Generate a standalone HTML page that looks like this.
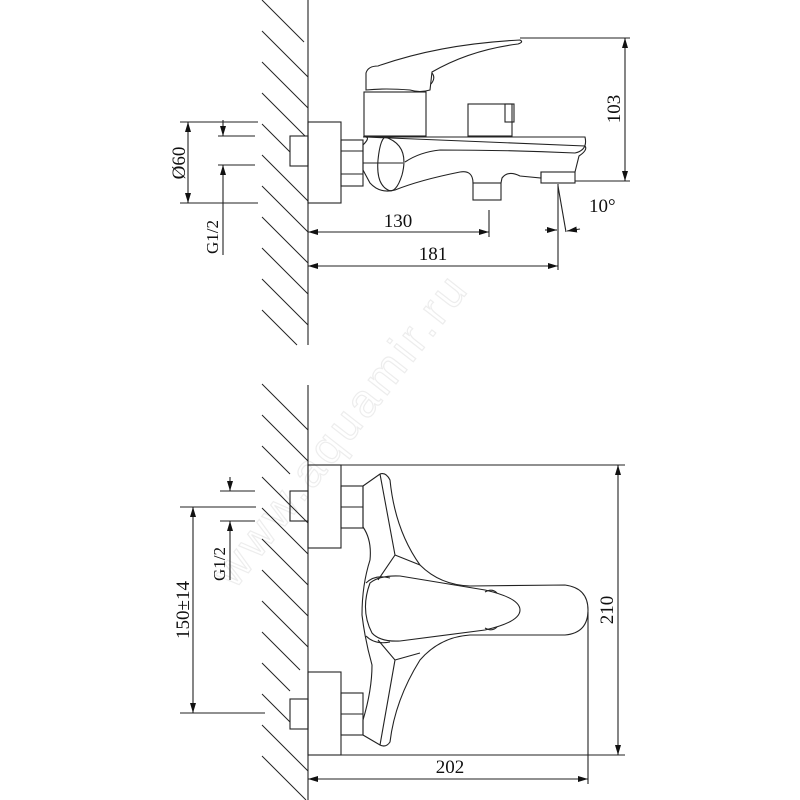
<!DOCTYPE html>
<html><head><style>html,body{margin:0;padding:0;background:#fff}svg{display:block}</style></head>
<body>
<svg width="800" height="800" viewBox="0 0 800 800" xmlns="http://www.w3.org/2000/svg" font-family="Liberation Serif, serif" fill="none" stroke="#222" stroke-width="1.1">
<defs>
<marker id="a" viewBox="0 0 10 6" refX="10" refY="3" markerWidth="10" markerHeight="6" orient="auto-start-reverse" markerUnits="userSpaceOnUse"><path d="M0,0 L10,3 L0,6 Z" fill="#111" stroke="none"/></marker>
</defs>
<text x="0" y="0" transform="translate(235,590) rotate(-52)" font-size="46" fill="none" stroke="#ededed" stroke-width="1.2" font-family="Liberation Sans, sans-serif" letter-spacing="4">www.aquamir.ru</text>

<line x1="308" y1="0" x2="308" y2="345"/>
<g stroke-width="1">
<line x1="262" y1="0" x2="304" y2="42"/>
<line x1="262" y1="31" x2="308" y2="77"/>
<line x1="262" y1="62" x2="308" y2="108"/>
<line x1="262" y1="93" x2="305" y2="136"/>
<line x1="262" y1="124" x2="290" y2="152"/>
<line x1="262" y1="155" x2="308" y2="201"/>
<line x1="262" y1="186" x2="308" y2="232"/>
<line x1="262" y1="217" x2="308" y2="263"/>
<line x1="262" y1="248" x2="308" y2="294"/>
<line x1="262" y1="279" x2="308" y2="325"/>
<line x1="262" y1="310" x2="297" y2="345"/>
</g>
<rect x="308" y="122" width="33" height="81"/>
<rect x="290" y="136" width="18" height="30"/>
<rect x="341" y="140" width="22" height="46"/>
<line x1="341" y1="151" x2="363" y2="151"/><line x1="341" y1="174" x2="363" y2="174"/>
<rect x="364" y="92" width="62" height="44"/>
<path d="M366,90 L366,73 Q368,66 378,66 Q440,44 520,40 Q524,42 518,44 Q470,50 432,72 L430,90 Q420,93 410,90 Q385,88 366,90 Z"/>
<path d="M432,73 Q436,78 431,84"/>
<path d="M366,137 L585,146 Q588,150 579,156 L575,172 L541,172 L541,178 L520,176 Q508,170 502,178 L501,183 L473,183 Q473,170 460,172 Q420,180 395,190 Q380,194 370,183 L363,170 L363,145 Q370,138 366,137 Z"/>
<path d="M363,137 L585,137 Q588,150 575,153 Q510,150 440,150 Q420,152 405,162"/>
<path d="M385,137 Q410,145 402,175 Q396,194 388,190 Q376,184 378,160 Q380,140 385,137 Z"/>
<line x1="363" y1="163" x2="403" y2="163"/>
<rect x="468" y="104" width="44" height="32"/>
<rect x="505" y="104" width="9" height="18"/>
<rect x="473" y="183" width="28" height="17"/>
<rect x="541" y="172" width="34" height="11"/>
<line x1="520" y1="38" x2="630" y2="38"/><line x1="575" y1="181" x2="630" y2="181"/>
<line x1="625" y1="38" x2="625" y2="181" marker-start="url(#a)" marker-end="url(#a)"/>
<text transform="translate(620,109) rotate(-90)" font-size="19" fill="#111" stroke="none" text-anchor="middle">103</text>
<line x1="489" y1="210" x2="489" y2="237"/>
<line x1="308" y1="232" x2="489" y2="232" marker-start="url(#a)" marker-end="url(#a)"/>
<text x="398" y="227" font-size="19" fill="#111" stroke="none" text-anchor="middle">130</text>
<line x1="558" y1="184" x2="558" y2="270"/>
<line x1="308" y1="266" x2="558" y2="266" marker-start="url(#a)" marker-end="url(#a)"/>
<text x="433" y="260" font-size="19" fill="#111" stroke="none" text-anchor="middle">181</text>
<line x1="558" y1="186" x2="566" y2="232"/>
<line x1="545" y1="230" x2="557" y2="230" marker-end="url(#a)"/>
<line x1="580" y1="229" x2="567" y2="231" marker-end="url(#a)"/>
<text x="589" y="212" font-size="19" fill="#111" stroke="none">10°</text>
<line x1="180" y1="122" x2="258" y2="122"/><line x1="180" y1="203" x2="258" y2="203"/>
<line x1="188" y1="122" x2="188" y2="203" marker-start="url(#a)" marker-end="url(#a)"/>
<text transform="translate(185,163) rotate(-90)" font-size="19" fill="#111" stroke="none" text-anchor="middle">Ø60</text>
<line x1="218" y1="136" x2="255" y2="136"/><line x1="218" y1="165" x2="255" y2="165"/>
<line x1="223" y1="120" x2="223" y2="136" marker-end="url(#a)"/>
<line x1="223" y1="255" x2="223" y2="165" marker-end="url(#a)"/>
<text transform="translate(218,237) rotate(-90)" font-size="17" fill="#111" stroke="none" text-anchor="middle">G1/2</text>

<line x1="308" y1="385" x2="308" y2="800"/>
<g stroke-width="1">
<line x1="262" y1="384" x2="308" y2="430"/>
<line x1="262" y1="415" x2="308" y2="461"/>
<line x1="262" y1="446" x2="290" y2="474"/>
<line x1="262" y1="477" x2="308" y2="523"/>
<line x1="262" y1="508" x2="308" y2="554"/>
<line x1="262" y1="539" x2="308" y2="585"/>
<line x1="262" y1="570" x2="308" y2="616"/>
<line x1="262" y1="601" x2="308" y2="647"/>
<line x1="262" y1="632" x2="300" y2="670"/>
<line x1="262" y1="663" x2="290" y2="691"/>
<line x1="262" y1="694" x2="290" y2="722"/>
<line x1="262" y1="725" x2="308" y2="771"/>
<line x1="262" y1="756" x2="306" y2="800"/>
</g>
<rect x="308" y="465" width="33" height="83"/>
<rect x="290" y="491" width="18" height="30"/>
<rect x="341" y="486" width="22" height="42"/>
<line x1="341" y1="507" x2="363" y2="507"/>
<rect x="308" y="672" width="33" height="83"/>
<rect x="290" y="699" width="18" height="30"/>
<rect x="341" y="693" width="22" height="42"/>
<line x1="341" y1="714" x2="363" y2="714"/>
<path d="M363,486 L380,474 Q386,472 390,480 Q395,530 420,565 Q440,585 470,586 L565,585 Q588,588 588,610 Q588,633 565,635 L470,635 Q440,637 420,660 Q395,700 390,742 Q386,748 380,745 L363,735 L363,720 Q372,690 372,665 Q365,640 362,615 Q362,585 370,560 Q372,540 363,527 Z"/>
<path d="M380,474 L395,555 L378,580 M395,555 L420,565"/>
<path d="M380,745 L395,660 L378,640 M395,660 L420,653"/>
<path d="M370,583 Q380,575 400,576 L485,590 Q520,598 520,610 Q520,622 485,630 L400,641 Q380,642 372,633 Q360,610 370,583 Z"/>
<path d="M366,583 Q375,574 390,578 M366,636 Q375,645 390,642"/>
<path d="M485,592 Q492,588 497,593 M485,628 Q492,632 497,627"/>
<line x1="341" y1="465" x2="625" y2="465"/><line x1="341" y1="755" x2="625" y2="755"/>
<line x1="618" y1="465" x2="618" y2="755" marker-start="url(#a)" marker-end="url(#a)"/>
<text transform="translate(613,610) rotate(-90)" font-size="19" fill="#111" stroke="none" text-anchor="middle">210</text>
<line x1="588" y1="612" x2="588" y2="784"/>
<line x1="308" y1="779" x2="588" y2="779" marker-start="url(#a)" marker-end="url(#a)"/>
<text x="450" y="773" font-size="19" fill="#111" stroke="none" text-anchor="middle">202</text>
<line x1="180" y1="507" x2="256" y2="507"/><line x1="180" y1="713" x2="265" y2="713"/>
<line x1="193" y1="507" x2="193" y2="713" marker-start="url(#a)" marker-end="url(#a)"/>
<text transform="translate(189,610) rotate(-90)" font-size="19" fill="#111" stroke="none" text-anchor="middle">150±14</text>
<line x1="220" y1="491" x2="255" y2="491"/><line x1="220" y1="521" x2="255" y2="521"/>
<line x1="230" y1="477" x2="230" y2="491" marker-end="url(#a)"/>
<line x1="230" y1="580" x2="230" y2="521" marker-end="url(#a)"/>
<text transform="translate(225,564) rotate(-90)" font-size="17" fill="#111" stroke="none" text-anchor="middle">G1/2</text>
</svg>
</body></html>
